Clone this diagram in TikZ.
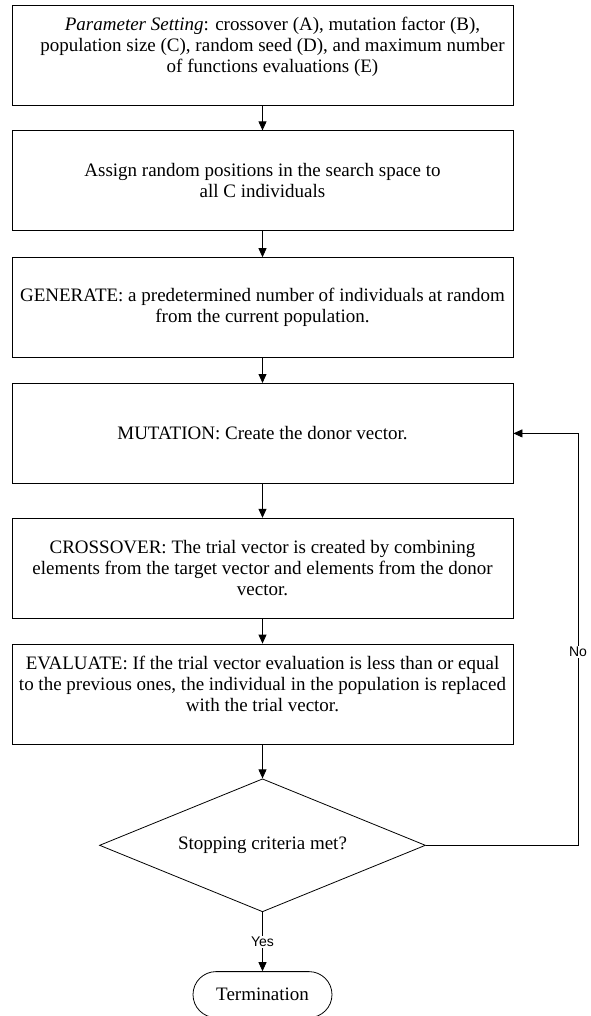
\documentclass[tikz,border=0pt]{standalone}
\usepackage{fontspec}
\setmainfont{Liberation Serif}
\newfontfamily\branchfont{Liberation Sans}
\usetikzlibrary{positioning,shapes.geometric,arrows.meta}

\begin{document}
\begin{tikzpicture}[x=1pt,y=1pt]
	\tikzset{every node/.style={font=\fontsize{19}{21}\selectfont}}
	\tikzset{stage/.style={draw,line width=0.8pt,minimum width=501pt,minimum height=100pt,align=center,inner sep=2pt}}
	\tikzset{decision/.style={draw,line width=0.8pt,diamond,aspect=2.45,minimum width=326pt,minimum height=133pt,inner sep=0pt}}
	\tikzset{terminal/.style={draw,line width=0.8pt,rounded corners=23pt,minimum width=139pt,minimum height=46pt}}
	\tikzset{flow/.style={line width=0.8pt,-{Triangle[width=8pt,length=9pt]}}}
	\tikzset{branch/.style={fill=white,inner sep=1pt,font=\branchfont\fontsize{14}{16}\selectfont}}
	\useasboundingbox (0,0) rectangle (590,-1016);
	\node[stage] (params) at (262.5,-55) {\hspace*{20pt}\textit{Parameter Setting}: crossover (A), mutation factor (B),\\ \hspace*{20pt}population size (C), random seed (D), and maximum number\\ \hspace*{20pt}of functions evaluations (E)\\ \mbox{}};
	\node[stage,below=25pt of params] (init) {Assign random positions in the search space to\\ all C individuals};
	\node[stage,below=26pt of init] (generate) {GENERATE: a predetermined number of individuals at random\\ from the current population.};
	\node[stage,below=25pt of generate] (mutate) {MUTATION: Create the donor vector.};
	\node[stage,below=34pt of mutate] (cross) {CROSSOVER: The trial vector is created by combining\\ elements from the target vector and elements from the donor\\ vector.};
	\node[stage,below=25pt of cross] (evaluate) {EVALUATE: If the trial vector evaluation is less than or equal\\ \makebox[480pt][c]{to the previous ones, the individual in the population is replaced}\\ with the trial vector.\\ \mbox{}};
	\node[decision,below=34pt of evaluate] (stop) {Stopping criteria met?};
	\node[terminal,below=59pt of stop] (term) {Termination};
	\coordinate (loop) at (578,0);
	% main flow
	\draw[flow] (params) -- (init);
	\draw[flow] (init) -- (generate);
	\draw[flow] (generate) -- (mutate);
	\draw[flow] (mutate) -- (cross);
	\draw[flow] (cross) -- (evaluate);
	\draw[flow] (evaluate) -- (stop);
	\draw[flow] (stop) -- node[branch] {Yes} (term);
	% back to mutation
	\draw[flow] (stop.east) -- (stop.east -| loop) -- node[branch,pos=0.47] {No} (mutate.east -| loop) -- (mutate.east);
\end{tikzpicture}
\end{document}
